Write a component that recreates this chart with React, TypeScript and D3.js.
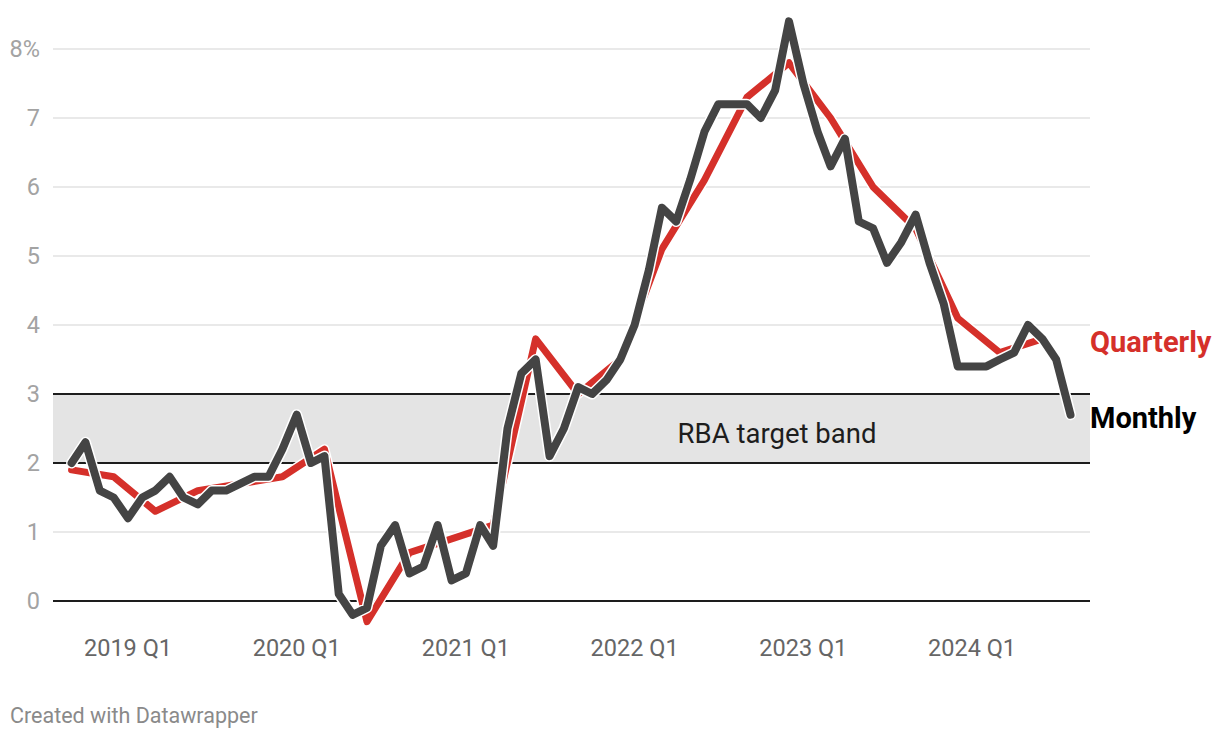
import React from "react";
import * as d3 from "d3";

const monthlyStart = "2018-09";
const monthlyValues = [
  2.0, 2.3, 1.6, 1.5, 1.2, 1.5, 1.6, 1.8, 1.5, 1.4, 1.6, 1.6, 1.7, 1.8, 1.8, 2.2,
  2.7, 2.0, 2.1, 0.1, -0.2, -0.1, 0.8, 1.1, 0.4, 0.5, 1.1, 0.3,
  0.4, 1.1, 0.8, 2.5, 3.3, 3.5, 2.1, 2.5, 3.1, 3.0, 3.2, 3.5,
  4.0, 4.8, 5.7, 5.5, 6.1, 6.8, 7.2, 7.2, 7.2, 7.0, 7.4, 8.4,
  7.5, 6.8, 6.3, 6.7, 5.5, 5.4, 4.9, 5.2, 5.6, 4.9, 4.3, 3.4,
  3.4, 3.4, 3.5, 3.6, 4.0, 3.8, 3.5, 2.7,
];

const quarterlyDates = [
  "2018-09", "2018-12", "2019-03", "2019-06", "2019-09", "2019-12",
  "2020-03", "2020-06", "2020-09", "2020-12", "2021-03", "2021-06",
  "2021-09", "2021-12", "2022-03", "2022-06", "2022-09", "2022-12",
  "2023-03", "2023-06", "2023-09", "2023-12", "2024-03", "2024-06",
];
const quarterlyValues = [
  1.9, 1.8, 1.3, 1.6, 1.7, 1.8, 2.2, -0.3, 0.7, 0.9, 1.1, 3.8,
  3.0, 3.5, 5.1, 6.1, 7.3, 7.8, 7.0, 6.0, 5.4, 4.1, 3.6, 3.8,
];

const yTicks = [0, 1, 2, 3, 4, 5, 6, 7, 8];
const xTickYears = [2019, 2020, 2021, 2022, 2023, 2024];
const bandRange = [2, 3];
const bandLabel = "RBA target band";
const seriesLabels = { quarterly: "Quarterly", monthly: "Monthly" };
const credit = "Created with Datawrapper";

const parseMonth = d3.timeParse("%Y-%m");

export default function App() {
  const W = 1220;
  const H = 738;
  const x = d3
    .scaleTime()
    .domain([new Date(2018, 8, 1), new Date(2024, 7, 1)])
    .range([71.6, 1070.5]);
  const y = d3.scaleLinear().domain([0, 8]).range([601, 49]);
  const gridL = 53;
  const gridR = 1090;

  const start = parseMonth(monthlyStart)!;
  const monthly = monthlyValues.map((v, i) => ({
    date: d3.timeMonth.offset(start, i),
    v,
  }));
  const quarterly = quarterlyValues.map((v, i) => ({
    date: parseMonth(quarterlyDates[i])!,
    v,
  }));

  const line = d3
    .line<{ date: Date; v: number }>()
    .x((d) => x(d.date))
    .y((d) => y(d.v))
    .curve(d3.curveLinear);

  const qPath = line(quarterly)!;
  const mPath = line(monthly)!;
  const font = "Roboto, 'Noto Sans', sans-serif";
  const lastQ = quarterly[quarterly.length - 1];
  const lastM = monthly[monthly.length - 1];

  return (
    <svg
      width={W}
      height={H}
      style={{ position: "absolute", left: 0, top: 0, background: "#fff" }}
      fontFamily={font}
    >
      <rect
        x={gridL}
        y={y(bandRange[1])}
        width={gridR - gridL}
        height={y(bandRange[0]) - y(bandRange[1])}
        fill="#e4e4e4"
      />
      {yTicks.map((t) => {
        const dark = t === 0 || t === 2 || t === 3;
        return (
          <g key={t}>
            <line
              x1={gridL}
              x2={gridR}
              y1={y(t)}
              y2={y(t)}
              stroke={dark ? "#1d1d1d" : "#e2e2e2"}
              strokeWidth={dark ? 2 : 1.5}
            />
            <text
              x={40}
              y={y(t)}
              dy="0.36em"
              textAnchor="end"
              fontSize={23.5}
              fill="#a3a3a3"
            >
              {t === 8 ? "8%" : String(t)}
            </text>
          </g>
        );
      })}
      <text
        x={777}
        y={(y(2) + y(3)) / 2 + 5}
        dy="0.36em"
        textAnchor="middle"
        fontSize={27.5}
        fill="#1d1d1d"
      >
        {bandLabel}
      </text>
      {xTickYears.map((yr) => (
        <text
          key={yr}
          x={x(new Date(yr, 0, 1))}
          y={648}
          dy="0.36em"
          textAnchor="middle"
          fontSize={23.5}
          fill="#666"
        >
          {`${yr} Q1`}
        </text>
      ))}
      <path
        d={qPath}
        fill="none"
        stroke="#fff"
        strokeWidth={10}
        strokeLinejoin="round"
        strokeLinecap="round"
      />
      <path
        d={qPath}
        fill="none"
        stroke="#d5302a"
        strokeWidth={7}
        strokeLinejoin="round"
        strokeLinecap="round"
      />
      <path
        d={mPath}
        fill="none"
        stroke="#fff"
        strokeWidth={11}
        strokeLinejoin="round"
        strokeLinecap="round"
      />
      <path
        d={mPath}
        fill="none"
        stroke="#444"
        strokeWidth={8}
        strokeLinejoin="round"
        strokeLinecap="round"
      />
      <text
        x={1090}
        y={y(lastQ.v) + 3}
        dy="0.36em"
        fontSize={29}
        fontWeight="bold"
        fill="#d5302a"
      >
        {seriesLabels.quarterly}
      </text>
      <text
        x={1090}
        y={y(lastM.v) + 3}
        dy="0.36em"
        fontSize={29}
        fontWeight="bold"
        fill="#000"
      >
        {seriesLabels.monthly}
      </text>
      <text x={10} y={715} dy="0.36em" fontSize={21.5} fill="#8a8a8a">
        {credit}
      </text>
    </svg>
  );
}
